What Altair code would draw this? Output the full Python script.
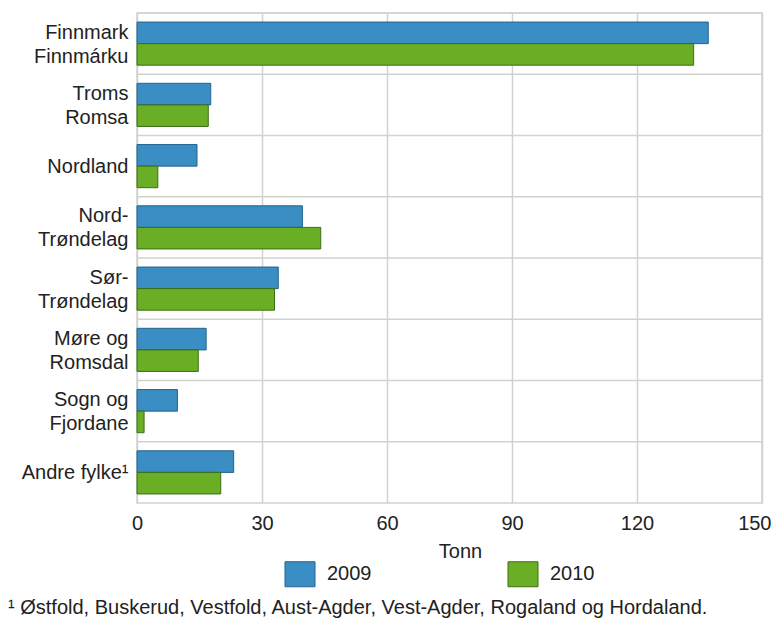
import altair as alt
import pandas as pd

regions = ["Finnmark\u00a0|Finnmárku", "Troms\u00a0|Romsa", "Nordland", "Nord-|Trøndelag",
           "Sør-|Trøndelag", "Møre og\u00a0|Romsdal", "Sogn og\u00a0|Fjordane", "Andre fylke¹"]
years = ["2009", "2010"]
v2009 = [137.1, 17.7, 14.4, 39.7, 33.9, 16.6, 9.7, 23.2]
v2010 = [133.6, 17.1, 5.0, 44.1, 33.0, 14.7, 1.7, 20.1]
x_ticks = [0, 30, 60, 90, 120, 150]
fill_colors = ["#3a8ec4", "#69ae24"]
stroke_colors = ["#23638f", "#3d6e14"]
footnote = "¹ Østfold, Buskerud, Vestfold, Aust-Agder, Vest-Agder, Rogaland og Hordaland."

rows = []
for r, a, b in zip(regions, v2009, v2010):
    rows.append({"region": r, "year": years[0], "value": a})
    rows.append({"region": r, "year": years[1], "value": b})
df = pd.DataFrame(rows)
sep_df = pd.DataFrame({"region": regions})

FONT = "Liberation Sans"
TXT = "#222222"
GRID = "#d2d2d2"

legend = alt.Legend(
    title=None, orient="none", legendX=150, legendY=548, direction="horizontal", columns=2,
    symbolType="M-1.2,-1H1.2V1H-1.2Z", symbolSize=625, symbolStrokeWidth=1,
    labelFontSize=20, labelFont=FONT, labelColor=TXT, labelOffset=14, columnPadding=134,
)

y_scale = alt.Scale(paddingInner=0, paddingOuter=0)

separators = alt.Chart(sep_df).mark_rule(color=GRID, strokeWidth=1.5).encode(
    y=alt.Y("region:N", sort=regions, scale=y_scale, bandPosition=0),
    x=alt.value(0), x2=alt.value(625),
)

bars = alt.Chart(df).mark_bar(strokeWidth=1).encode(
    x=alt.X("value:Q", scale=alt.Scale(domain=[0, 150], nice=False),
            axis=alt.Axis(values=x_ticks, title="Tonn", grid=True, gridColor=GRID, gridWidth=1.5,
                          ticks=False, domain=False, labelFontSize=20, labelFont=FONT,
                          labelColor=TXT, labelPadding=10, titleFontSize=20, titleFont=FONT,
                          titleColor=TXT, titleFontWeight="normal", titlePadding=8,
                          titleX=323, labelFlush=False,
                          labelAlign={"expr": "datum.value == 150 ? 'right' : 'center'"},
                          labelOffset={"expr": "datum.value == 150 ? 9 : 0"})),
    y=alt.Y("region:N", sort=regions, scale=y_scale,
            axis=alt.Axis(title=None, labelExpr="split(datum.label, '|')", labelLineHeight=24,
                          labelFontSize=20, labelFont=FONT, labelColor=TXT, labelPadding=9,
                          labelOffset={"expr": "indexof(datum.label, '|') >= 0 ? -11 : 1"},
                          ticks=False, domain=False, grid=False)),
    yOffset=alt.YOffset("year:N", scale=alt.Scale(paddingInner=0, paddingOuter=0.42)),
    color=alt.Color("year:N", scale=alt.Scale(domain=years, range=fill_colors), legend=legend),
    stroke=alt.Stroke("year:N", scale=alt.Scale(domain=years, range=stroke_colors), legend=legend),
)

note = alt.Chart(alt.Data(values=[{"t": footnote}])).mark_text(
    align="left", baseline="alphabetic", fontSize=20, font=FONT, color=TXT
).encode(x=alt.value(-129), y=alt.value(601), text="t:N")

chart = alt.layer(separators, bars, note).properties(
    width=625, height=490,
    autosize=alt.AutoSizeParams(type="none"),
    padding={"left": 129, "top": 5, "right": 10, "bottom": 120},
).configure_view(stroke=GRID, strokeWidth=1.5)

chart.save("out.html", embed_options={"renderer": "svg", "actions": False})
